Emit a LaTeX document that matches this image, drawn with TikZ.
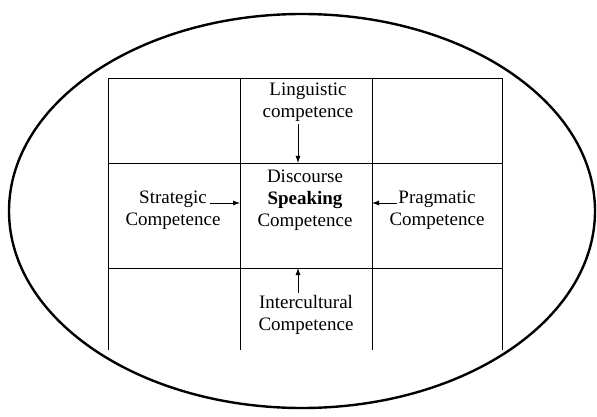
\documentclass[tikz,border=0pt]{standalone}
\usepackage{fontspec}
\setmainfont{Liberation Serif}
\usetikzlibrary{arrows.meta}
\begin{document}
\begin{tikzpicture}[x=1pt,y=-1pt,
  grid/.style={line width=0.9pt},
  oval/.style={line width=2.4pt},
  lbl/.style={align=center,inner sep=0pt,font=\fontsize{19}{22}\selectfont},
  arr/.style={line width=0.8pt,-{Latex[length=7pt,width=5pt]}}]
\useasboundingbox (0,0) rectangle (597,417);
% outer ellipse
\draw[oval] (302,211) ellipse [x radius=293, y radius=197];
% table grid (open at bottom)
\draw[grid] (108,350) -- (108,78) -- (502,78) -- (502,350);
\draw[grid] (240,78) -- (240,350);
\draw[grid] (372,78) -- (372,350);
\draw[grid] (108,163) -- (502,163);
\draw[grid] (108,268) -- (502,268);
% texts
\node[lbl] (ling) at (308,102) {Linguistic\\competence};
\node[lbl] (disc) at (305,200) {Discourse\\\textbf{Speaking}\\Competence};
\node[lbl] (strat) at (173,210) {Strategic\\Competence};
\node[lbl] (prag) at (437,210) {Pragmatic\\Competence};
\node[lbl] (inter) at (306,315) {Intercultural\\Competence};
% arrow end points
\coordinate (lingS) at (298,124);
\coordinate (lingE) at (298,163);
\coordinate (stratS) at (210,203);
\coordinate (stratE) at (240,203);
\coordinate (pragS) at (397,203);
\coordinate (pragE) at (372,203);
\coordinate (interS) at (298,293);
\coordinate (interE) at (298,268);
\draw[arr] (lingS) -- (lingE);
\draw[arr] (stratS) -- (stratE);
\draw[arr] (pragS) -- (pragE);
\draw[arr] (interS) -- (interE);
\end{tikzpicture}
\end{document}
